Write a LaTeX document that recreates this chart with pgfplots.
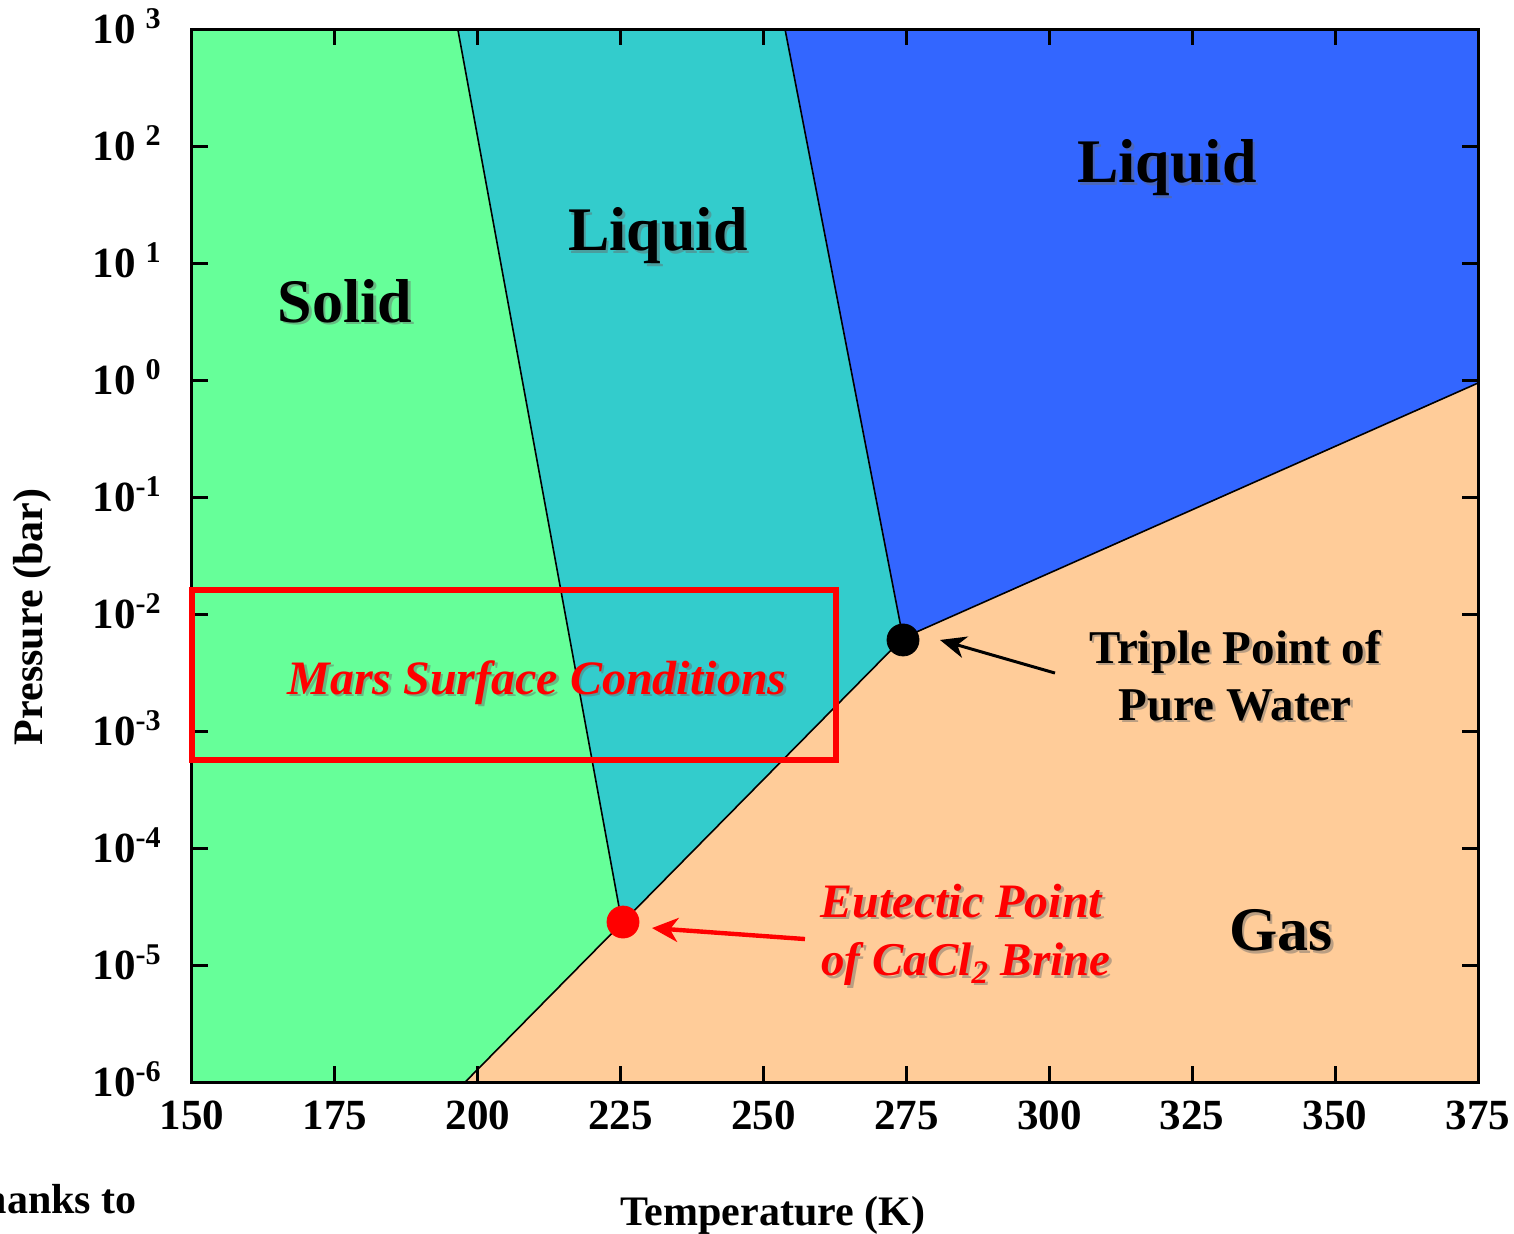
\documentclass[border=0pt]{standalone}
\usepackage{fontspec}
\setmainfont{Liberation Serif}
\usepackage{pgfplots}
\pgfplotsset{compat=1.18}
\usetikzlibrary{arrows.meta}
\definecolor{csolid}{HTML}{66FF99}
\definecolor{cliq}{HTML}{33CCCC}
\definecolor{cblue}{HTML}{3366FF}
\definecolor{cgas}{HTML}{FFCC99}
\newcommand{\stext}[5]{%
  \node[anchor=#1,font=#3,text=black!60,opacity=0.45,xshift=1.3pt,yshift=-1.3pt] at #2 {#5};
  \node[anchor=#1,font=#3,text=#4] at #2 {#5};}
\begin{document}
\begin{tikzpicture}
\path[use as bounding box] (-96pt,-75.5pt) rectangle (661pt,541pt);
\begin{axis}[
  at={(0,0)}, anchor=south west,
  scale only axis, width=643pt, height=526.5pt,
  xmin=150, xmax=375, ymode=log, ymin=1e-6, ymax=1e3,
  axis on top, clip=false,
  axis line style={line width=1.5pt},
  every tick/.style={line width=1.5pt, black},
  major tick length=8pt, tick align=inside,
  xminorticks=false, yminorticks=false,
  xtick={150,175,200,225,250,275,300,325,350,375},
  xticklabels={150,175,200,225,250,275,300,325,350,375},
  ytick={1e-6,1e-5,1e-4,1e-3,1e-2,1e-1,1,1e1,1e2,1e3},
  yticklabels={10\textsuperscript{-6},10\textsuperscript{-5},10\textsuperscript{-4},10\textsuperscript{-3},10\textsuperscript{-2},10\textsuperscript{-1},10\textsuperscript{\hphantom{-}0},10\textsuperscript{\hphantom{-}1},10\textsuperscript{\hphantom{-}2},10\textsuperscript{\hphantom{-}3}},
  ticklabel style={font=\fontsize{21.5}{25}\selectfont\bfseries, inner sep=0pt},
  xticklabel style={anchor=base, yshift=-23.5pt},
  yticklabel style={anchor=base east, xshift=-15pt, yshift=-7.3pt},
]
% regions
\addplot[fill=csolid, draw=none] coordinates {(150,1e-6) (150,1e3) (196.5,1e3) (225.23,2.286e-5) (197.8,1e-6)} -- cycle;
\addplot[fill=cliq, draw=none] coordinates {(196.5,1e3) (253.75,1e3) (274.4,6.24e-3) (225.23,2.286e-5)} -- cycle;
\addplot[fill=cblue, draw=none] coordinates {(253.75,1e3) (375,1e3) (375,0.942) (274.4,6.24e-3)} -- cycle;
\addplot[fill=cgas, draw=none] coordinates {(197.8,1e-6) (225.23,2.286e-5) (274.4,6.24e-3) (375,0.942) (375,1e-6)} -- cycle;
% boundaries
\addplot[black, line width=0.8pt] coordinates {(196.5,1e3) (225.23,2.286e-5)};
\addplot[black, line width=0.8pt] coordinates {(253.75,1e3) (274.4,6.24e-3)};
\addplot[black, line width=0.8pt] coordinates {(197.8,1e-6) (225.23,2.286e-5) (274.4,6.24e-3) (375,0.942)};
% arrows
\addplot[black, line width=1.5pt, -{Stealth[length=13pt,width=11pt,inset=4pt]}] coordinates {(300.99,3.13e-3) (280.87,6.0e-3)};
\addplot[red, line width=2.2pt, -{Stealth[length=13pt,width=12pt,inset=4pt]}] coordinates {(257.25,1.667e-5) (230.48,2.07e-5)};
% points
\addplot[only marks, mark=*, mark size=8pt, black] coordinates {(274.4,6.0e-3)};
\addplot[only marks, mark=*, mark size=8pt, red] coordinates {(225.41,2.33e-5)};
% box corners
\coordinate (b1) at (axis cs:150,0.01603);
\coordinate (b2) at (axis cs:262.7,5.65e-4);
\end{axis}
\draw[red, line width=3.2pt] (b1) rectangle (b2);
\begin{axis}[
  at={(0,0)}, anchor=south west,
  scale only axis, width=643pt, height=526.5pt,
  xmin=150, xmax=375, ymode=log, ymin=1e-6, ymax=1e3,
  hide axis, clip=false,
]
\addplot[draw=none] coordinates {(150,1)};
\stext{base}{(axis cs:176.77,3.13)}{\fontsize{31}{36}\selectfont\bfseries}{black}{Solid}
\stext{base}{(axis cs:231.53,12.68)}{\fontsize{31}{36}\selectfont\bfseries}{black}{Liquid}
\stext{base}{(axis cs:320.58,48.3)}{\fontsize{31}{36}\selectfont\bfseries}{black}{Liquid}
\stext{base}{(axis cs:340.53,1.318e-5)}{\fontsize{31}{36}\selectfont\bfseries}{black}{Gas}
\stext{base}{(axis cs:210.36,2.07e-3)}{\fontsize{24}{28}\selectfont\bfseries\itshape}{red}{Mars Surface Conditions}
\stext{base}{(axis cs:332.48,3.81e-3)}{\fontsize{23.5}{28}\selectfont\bfseries}{black}{Triple Point of}
\stext{base}{(axis cs:332.48,1.24e-3)}{\fontsize{23.5}{28}\selectfont\bfseries}{black}{Pure Water}
\stext{base west}{(axis cs:258.8,2.57e-5)}{\fontsize{24}{28}\selectfont\bfseries\itshape}{red}{Eutectic Point}
\stext{base west}{(axis cs:258.9,8.1e-6)}{\fontsize{23.5}{28}\selectfont\bfseries\itshape}{red}{of CaCl\textsubscript{2} Brine}
\end{axis}
\node[anchor=base, font=\fontsize{21}{25}\selectfont\bfseries, inner sep=0pt] at (290.5pt,-71.5pt) {Temperature (K)};
\node[anchor=base east, font=\fontsize{21}{25}\selectfont\bfseries, inner sep=0pt] at (-27.5pt,-65.5pt) {Thanks to};
\node[rotate=90, font=\fontsize{21}{25}\selectfont\bfseries, inner sep=0pt] at (-80pt,232.5pt) {Pressure (bar)};
\end{tikzpicture}
\end{document}
